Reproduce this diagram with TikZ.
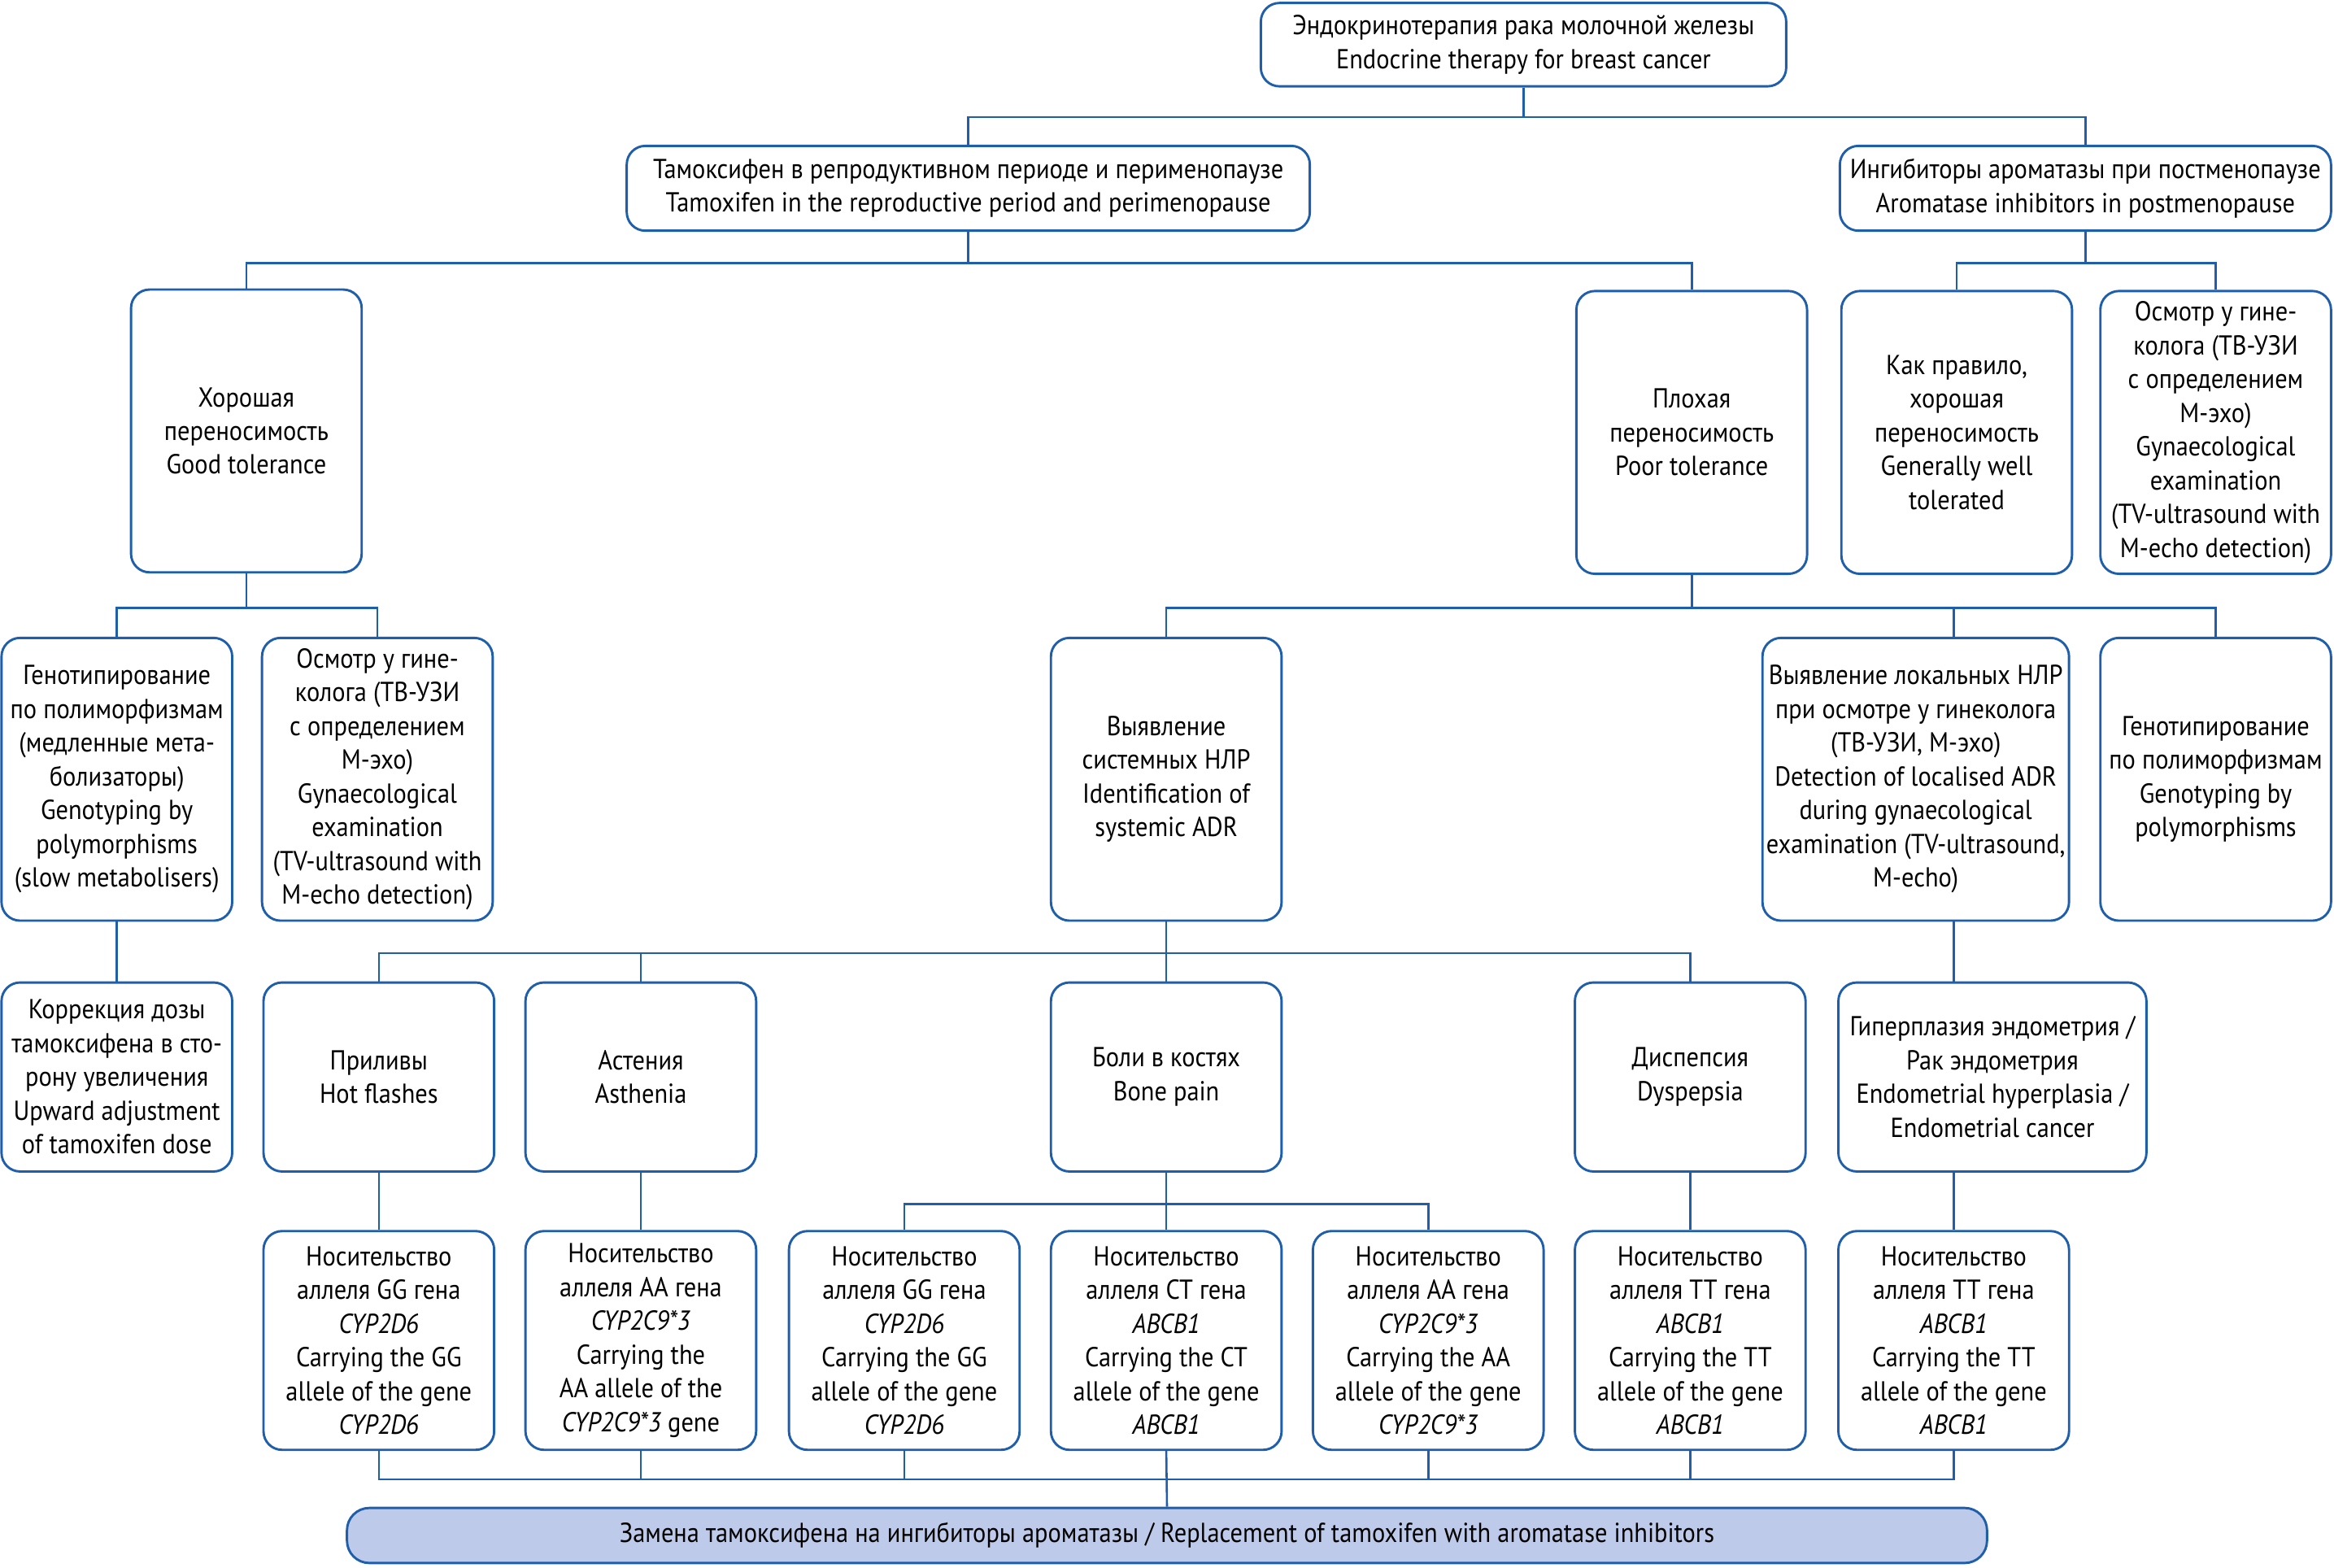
\documentclass[tikz,border=0pt]{standalone}
\usepackage{fontspec}
\setmainfont[FakeStretch=0.9]{PT Sans}
\usepackage{tikz}
\usetikzlibrary{positioning,calc}
\definecolor{lineblue}{HTML}{1F5EAA}
\definecolor{finalblue}{HTML}{BDCAEA}

\begin{document}
\begin{tikzpicture}[
    x=0.02cm, y=-0.02cm,
    font=\fontsize{10.5}{12.9}\selectfont,
    box/.style={rectangle, draw=lineblue, line width=0.9pt, rounded corners=0.25cm, align=center, inner sep=1pt, minimum width=3.1cm},
    tallbox/.style={box, minimum height=3.8cm},
    midbox/.style={box, minimum height=2.54cm},
    genebox/.style={box, minimum height=2.94cm},
    finalbox/.style={box, fill=finalblue, minimum width=22.04cm, minimum height=0.74cm, rounded corners=0.3cm},
    conn/.style={draw=lineblue, line width=0.8pt}
]
    \useasboundingbox (0,0) rectangle (1568,1053);

    % Nodes
    \node[box, minimum width=7.06cm, minimum height=1.12cm] (top) at (1023.5,30) {Эндокринотерапия рака молочной железы\\Endocrine therapy for breast cancer};
    \node[box, minimum width=9.18cm, minimum height=1.14cm] (tam) at (650.5,126.5) {Тамоксифен в репродуктивном периоде и перименопаузе\\Tamoxifen in the reproductive period and perimenopause};
    \node[box, minimum width=6.6cm, minimum height=1.14cm] (ai) at (1401,126.5) {Ингибиторы ароматазы при постменопаузе\\Aromatase inhibitors in postmenopause};

    \node[tallbox] (good) at (165.5,289.5) {Хорошая\\переносимость\\Good tolerance};
    \node[tallbox] (poor) at (1136.5,290.5) {Плохая\\переносимость\\Poor tolerance};
    \node[tallbox] (usual) at (1314.5,290.5) {Как правило,\\хорошая\\переносимость\\Generally well\\tolerated};
    \node[tallbox] (gynai) at (1488.5,290.5) {Осмотр у гине-\\колога (ТВ-УЗИ\\с определением\\М-эхо)\\Gynaecological\\examination\\(TV-ultrasound with\\M-echo detection)};

    \node[tallbox] (geno1) at (78.5,523.5) {Генотипирование\\по полиморфизмам\\(медленные мета-\\болизаторы)\\Genotyping by\\polymorphisms\\(slow metabolisers)};
    \node[tallbox] (gyn1) at (253.5,523.5) {Осмотр у гине-\\колога (ТВ-УЗИ\\с определением\\М-эхо)\\Gynaecological\\examination\\(TV-ultrasound with\\M-echo detection)};
    \node[tallbox] (sys) at (783.5,523.5) {Выявление\\системных НЛР\\Identification of\\systemic ADR};
    \node[tallbox, minimum width=4.12cm] (loc) at (1287,523.5) {Выявление локальных НЛР\\при осмотре у гинеколога\\(ТВ-УЗИ, М-эхо)\\Detection of localised ADR\\during gynaecological\\examination (TV-ultrasound,\\M-echo)};
    \node[tallbox] (geno2) at (1488.5,523.5) {Генотипирование\\по полиморфизмам\\Genotyping by\\polymorphisms};

    \node[midbox] (dose) at (78.5,723.5) {Коррекция дозы\\тамоксифена в сто-\\рону увеличения\\Upward adjustment\\of tamoxifen dose};
    \node[midbox] (hot) at (254.5,723.5) {Приливы\\Hot flashes};
    \node[midbox] (ast) at (430.5,723.5) {Астения\\Asthenia};
    \node[midbox] (bone) at (783.5,723.5) {Боли в костях\\Bone pain};
    \node[midbox] (dysp) at (1135.5,723.5) {Диспепсия\\Dyspepsia};
    \node[midbox, minimum width=4.14cm] (hyper) at (1338.5,723.5) {Гиперплазия эндометрия /\\Рак эндометрия\\Endometrial hyperplasia /\\Endometrial cancer};

    \node[genebox] (c1) at (254.5,900.5) {Носительство\\аллеля GG гена\\\textit{CYP2D6}\\Carrying the GG\\allele of the gene\\\textit{CYP2D6}};
    \node[genebox] (c2) at (430.5,900.5) {Носительство\\аллеля AA гена\\\textit{CYP2C9*3}\\Carrying the\\AA allele of the\\\textit{CYP2C9*3} gene};
    \node[genebox] (c3) at (607.5,900.5) {Носительство\\аллеля GG гена\\\textit{CYP2D6}\\Carrying the GG\\allele of the gene\\\textit{CYP2D6}};
    \node[genebox] (c4) at (783.5,900.5) {Носительство\\аллеля CT гена\\\textit{ABCB1}\\Carrying the CT\\allele of the gene\\\textit{ABCB1}};
    \node[genebox] (c5) at (959.5,900.5) {Носительство\\аллеля AA гена\\\textit{CYP2C9*3}\\Carrying the AA\\allele of the gene\\\textit{CYP2C9*3}};
    \node[genebox] (c6) at (1135.5,900.5) {Носительство\\аллеля TT гена\\\textit{ABCB1}\\Carrying the TT\\allele of the gene\\\textit{ABCB1}};
    \node[genebox] (c7) at (1312.5,900.5) {Носительство\\аллеля TT гена\\\textit{ABCB1}\\Carrying the TT\\allele of the gene\\\textit{ABCB1}};

    \node[finalbox] (final) at (784,1031.5) {Замена тамоксифена на ингибиторы ароматазы / Replacement of tamoxifen with aromatase inhibitors};

    % Lines
    \draw[conn] (top.south) -- ++(0,20) coordinate (j0);
    \draw[conn] (tam.north) |- (j0) -| (ai.north);

    \draw[conn] (tam.south) -- ++(0,21) coordinate (j1);
    \draw[conn] (good.north) |- (j1) -| (poor.north);
    \draw[conn] (ai.south) -- ++(0,21) coordinate (j2);
    \draw[conn] (usual.north) |- (j2) -| (gynai.north);

    \draw[conn] (good.south) -- ++(0,23) coordinate (j3);
    \draw[conn] (geno1.north) |- (j3) -| (gyn1.north);
    \draw[conn] (poor.south) -- ++(0,22) coordinate (j4);
    \draw[conn] (sys.north) |- (j4) -| (geno2.north);
    \draw[conn] (j4 -| c7.north) -- (loc.north -| c7.north);

    \draw[conn] (geno1.south) -- (dose.north);
    \draw[conn] (sys.south) -- (bone.north);
    \path (sys.south) -- ++(0,21) coordinate (j5);
    \draw[conn] (hot.north) |- (j5) -| (dysp.north);
    \draw[conn] (ast.north) -- (ast.north |- j5);
    \draw[conn] (loc.south -| c7.north) -- (hyper.north -| c7.north);

    \draw[conn] (hot.south) -- (c1.north);
    \draw[conn] (ast.south) -- (c2.north);
    \draw[conn] (bone.south) -- (c4.north);
    \path (bone.south) -- ++(0,21) coordinate (j6);
    \draw[conn] (c3.north) |- (j6) -| (c5.north);
    \draw[conn] (dysp.south) -- (c6.north);
    \draw[conn] (hyper.south -| c7.north) -- (c7.north);

    \draw[conn] (c4.south) -- (final.north);
    \path (c4.south) -- ++(0,19) coordinate (j7);
    \draw[conn] (c1.south) |- (j7) -| (c7.south);
    \foreach \c in {c2,c3,c5,c6}
        \draw[conn] (\c.south) -- (\c.south |- j7);

\end{tikzpicture}
\end{document}
